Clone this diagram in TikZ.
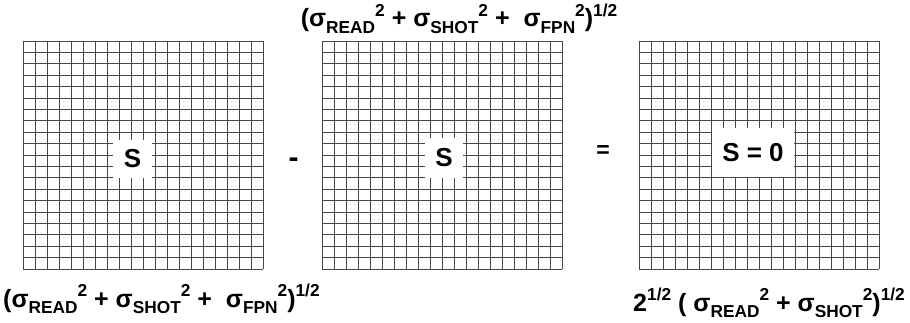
\documentclass[tikz,border=0pt]{standalone}
\usepackage{fontspec}
\setmainfont{Liberation Sans}
\newcommand{\subsz}{\fontsize{17.3}{17.3}\selectfont}
\newcommand{\sgm}[1]{σ\raisebox{-0.27em}{\subsz #1}\raisebox{0.42em}{\subsz 2}}
\newcommand{\half}{\raisebox{0.42em}{\subsz 1/2}}
\tikzset{
  gridline/.style={draw=black!72, line width=0.9pt},
  hole/.style={fill=white, draw=none},
  biglbl/.style={font=\fontsize{26}{26}\selectfont\bfseries, inner sep=0pt},
  formula/.style={font=\fontsize{25}{25}\selectfont\bfseries, inner sep=0pt},
}
\newcommand{\pixgrid}[2]{%
  \foreach \i in {0,...,20} {
    \draw[gridline] ({#1+12*\i},{#2}) -- ({#1+12*\i},{#2+228});
    \draw[gridline] ({#1},{#2+11.4*\i}) -- ({#1+240},{#2+11.4*\i});
  }}
\begin{document}
\begin{tikzpicture}[x=1pt, y=-1pt]
  \useasboundingbox (0,0) rectangle (910,323);
  \fill[white] (0,0) rectangle (910,323);
  % grids
  \pixgrid{23}{41}
  \pixgrid{322}{41}
  \pixgrid{639}{41}
  % white holes
  \fill[hole] (113,140) rectangle (152,178);
  \fill[hole] (425,138) rectangle (463,178);
  \fill[hole] (712,128) rectangle (794,177);
  % labels inside
  \node[biglbl] (s1) at (132.5,159) {S};
  \node[biglbl] (s2) at (444,158) {S};
  \node[biglbl] (s3) at (753,153) {S = 0};
  % operators
  \node[font=\fontsize{30}{30}\selectfont\bfseries, inner sep=0pt] (minus) at (293.5,163) {-};
  \node[font=\fontsize{23}{23}\selectfont\bfseries, inner sep=0pt] (eq) at (603,152) {=};
  % formulas
  \node[formula, anchor=base] (top) at (459,27) {(\sgm{READ} + \sgm{SHOT} +\ \ \sgm{FPN})\half};
  \node[formula, anchor=base west] (bl) at (3,307) {(\sgm{READ} + \sgm{SHOT} +\ \ \sgm{FPN})\half};
  \node[formula, anchor=base east] (br) at (905,311) {2\half\ ( \sgm{READ} + \sgm{SHOT})\half};
\end{tikzpicture}
\end{document}
